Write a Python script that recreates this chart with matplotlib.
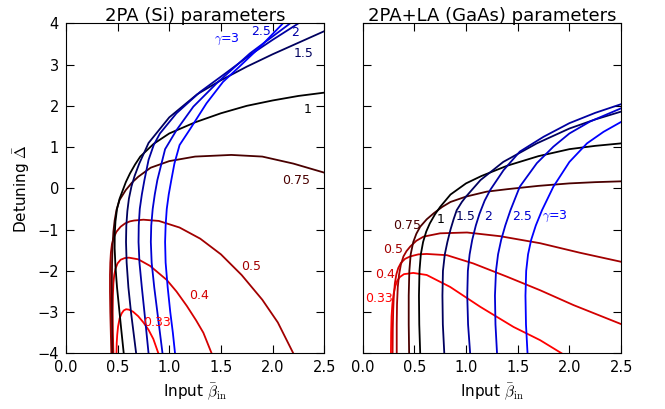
import matplotlib
matplotlib.use('Agg')
import matplotlib.pyplot as plt

plt.rcParams['mathtext.fontset'] = 'cm'
plt.rcParams['font.family'] = ['DejaVu Sans']

# gamma values and the colour used for each one (red -> black -> blue)
gammas = ['0.33', '0.4', '0.5', '0.75', '1', '1.5', '2', '2.5', '3']
colors = ['#ff0000', '#d40000', '#a10000', '#4a0000', '#000000',
          '#00005e', '#0000a1', '#0000d4', '#0000ff']

# ---- 2PA (Si) curves ----
si_033_x = [0.49, 0.492, 0.497, 0.505, 0.52, 0.54, 0.56, 0.583, 0.61, 0.65, 0.70, 0.75, 0.80, 0.846, 0.895]
si_033_y = [-4, -3.75, -3.55, -3.35, -3.15, -3.03, -2.96, -2.93, -2.94, -2.99, -3.1, -3.25, -3.43, -3.65, -4]
si_04_x = [0.46, 0.455, 0.453, 0.455, 0.46, 0.468, 0.48, 0.50, 0.53, 0.57, 0.61, 0.70, 0.815,
           0.976, 1.07, 1.17, 1.26, 1.33, 1.41]
si_04_y = [-4, -3.5, -3, -2.6, -2.3, -2.1, -1.95, -1.82, -1.73, -1.69, -1.68, -1.72, -1.88,
           -2.22, -2.5, -2.85, -3.2, -3.5, -4]
si_05_x = [0.44, 0.435, 0.43, 0.427, 0.427, 0.43, 0.436, 0.446, 0.462, 0.49, 0.53, 0.573, 0.62,
           0.66, 0.75, 0.9, 1.1, 1.3, 1.5, 1.7, 1.9, 2.05, 2.2]
si_05_y = [-4, -3.5, -3, -2.5, -2.1, -1.8, -1.55, -1.35, -1.2, -1.05, -0.93, -0.85, -0.8,
           -0.78, -0.76, -0.79, -0.95, -1.22, -1.6, -2.1, -2.7, -3.25, -4]
si_075_x = [0.45, 0.446, 0.445, 0.447, 0.452, 0.46, 0.472, 0.49, 0.52, 0.58, 0.64, 0.70, 0.82,
            1.0, 1.25, 1.6, 1.9, 2.2, 2.5]
si_075_y = [-4, -3, -2.3, -1.8, -1.4, -1.05, -0.78, -0.52, -0.28, -0.04, 0.14, 0.28, 0.5,
            0.66, 0.77, 0.81, 0.77, 0.6, 0.38]
si_1_x = [0.56, 0.535, 0.515, 0.495, 0.48, 0.472, 0.473, 0.48, 0.495, 0.52, 0.55, 0.58, 0.62,
          0.67, 0.72, 0.85, 1.0, 1.25, 1.5, 1.75, 2.0, 2.25, 2.5]
si_1_y = [-4, -3.4, -2.9, -2.4, -1.9, -1.45, -1.1, -0.8, -0.5, -0.25, -0.05, 0.15, 0.36,
          0.58, 0.77, 1.08, 1.33, 1.6, 1.82, 2.0, 2.13, 2.24, 2.32]
si_15_x = [0.68, 0.655, 0.63, 0.605, 0.588, 0.582, 0.585, 0.595, 0.61, 0.635, 0.665, 0.71, 0.80,
           1.0, 1.27, 1.5, 1.75, 2.0, 2.25, 2.5]
si_15_y = [-4, -3.5, -3, -2.4, -1.8, -1.3, -0.9, -0.55, -0.25, 0.05, 0.3, 0.6, 1.1,
           1.72, 2.28, 2.62, 2.95, 3.25, 3.53, 3.81]
si_2_x = [0.80, 0.78, 0.76, 0.735, 0.712, 0.703, 0.705, 0.715, 0.735, 0.76, 0.80, 0.85, 0.91,
          1.07, 1.30, 1.55, 1.78, 2.0, 2.25]
si_2_y = [-4, -3.5, -3, -2.4, -1.8, -1.3, -0.9, -0.5, -0.15, 0.2, 0.69, 1.05, 1.33,
          1.82, 2.34, 2.8, 3.23, 3.6, 4.0]
si_25_x = [0.935, 0.91, 0.885, 0.855, 0.83, 0.822, 0.826, 0.84, 0.86, 0.885, 0.915, 0.96, 1.07,
           1.233, 1.46, 1.78, 2.17]
si_25_y = [-4, -3.5, -3, -2.4, -1.8, -1.3, -0.9, -0.5, -0.15, 0.2, 0.5, 0.95, 1.41,
           1.98, 2.55, 3.27, 4.0]
si_3_x = [1.056, 1.035, 1.01, 0.985, 0.965, 0.96, 0.965, 0.976, 0.995, 1.02, 1.05, 1.10, 1.20,
          1.36, 1.52, 1.67, 1.88, 2.10]
si_3_y = [-4, -3.5, -3, -2.4, -1.8, -1.3, -0.9, -0.5, -0.15, 0.2, 0.6, 1.05, 1.43,
          2.06, 2.58, 2.93, 3.43, 4.0]

# ---- 2PA+LA (GaAs) curves ----
ga_033_x = [0.274, 0.276, 0.28, 0.288, 0.30, 0.315, 0.335, 0.36, 0.40, 0.49, 0.62, 0.847,
            1.137, 1.46, 1.717, 1.926]
ga_033_y = [-4, -3.5, -3.1, -2.8, -2.56, -2.38, -2.24, -2.15, -2.08, -2.05, -2.10, -2.39,
            -2.87, -3.36, -3.68, -4]
ga_04_x = [0.29, 0.292, 0.296, 0.302, 0.312, 0.327, 0.345, 0.37, 0.41, 0.46, 0.54, 0.62, 0.815,
           1.07, 1.395, 1.717, 2.04, 2.5]
ga_04_y = [-4, -3.4, -2.95, -2.6, -2.3, -2.08, -1.93, -1.81, -1.71, -1.65, -1.6, -1.59, -1.62,
           -1.82, -2.14, -2.47, -2.83, -3.29]
ga_05_x = [0.33, 0.33, 0.333, 0.34, 0.352, 0.37, 0.395, 0.425, 0.461, 0.52, 0.59, 0.75, 1.01,
           1.33, 1.717, 2.10, 2.5]
ga_05_y = [-4, -3.3, -2.8, -2.4, -2.1, -1.85, -1.65, -1.52, -1.41, -1.27, -1.17, -1.09, -1.07,
           -1.16, -1.33, -1.56, -1.78]
ga_075_x = [0.45, 0.446, 0.446, 0.452, 0.465, 0.49, 0.52, 0.557, 0.62, 0.69, 0.77, 0.85, 1.0,
            1.2, 1.4, 1.7, 2.0, 2.25, 2.5]
ga_075_y = [-4, -3.3, -2.6, -2.0, -1.6, -1.3, -1.1, -0.93, -0.75, -0.6, -0.45, -0.33, -0.2,
            -0.08, -0.02, 0.06, 0.12, 0.15, 0.17]
ga_1_x = [0.557, 0.548, 0.545, 0.55, 0.563, 0.585, 0.615, 0.65, 0.70, 0.75, 0.85, 1.0, 1.15,
          1.4, 1.7, 2.0, 2.25, 2.5]
ga_1_y = [-4, -3.3, -2.6, -2.0, -1.6, -1.3, -1.05, -0.85, -0.63, -0.45, -0.15, 0.12, 0.3,
          0.55, 0.78, 0.95, 1.03, 1.09]
ga_15_x = [0.79, 0.776, 0.772, 0.777, 0.795, 0.82, 0.85, 0.88, 0.91, 0.96, 1.0, 1.14, 1.36,
           1.685, 2.0, 2.25, 2.5]
ga_15_y = [-4, -3.3, -2.6, -2.0, -1.6, -1.3, -1.0, -0.75, -0.53, -0.33, -0.2, 0.2, 0.64,
           1.09, 1.45, 1.67, 1.86]
ga_2_x = [1.04, 1.02, 1.012, 1.018, 1.035, 1.06, 1.095, 1.13, 1.18, 1.234, 1.363, 1.52, 1.75,
          2.0, 2.25, 2.5]
ga_2_y = [-4, -3.3, -2.6, -2.0, -1.6, -1.25, -0.9, -0.62, -0.3, -0.04, 0.44, 0.89, 1.25,
          1.58, 1.83, 2.04]
ga_25_x = [1.30, 1.285, 1.28, 1.29, 1.31, 1.34, 1.38, 1.43, 1.52, 1.685, 1.845, 2.0, 2.2, 2.5]
ga_25_y = [-4, -3.3, -2.6, -2.0, -1.6, -1.25, -0.9, -0.53, 0.04, 0.61, 1.01, 1.33, 1.62, 1.94]
ga_3_x = [1.595, 1.58, 1.575, 1.582, 1.6, 1.63, 1.675, 1.735, 1.845, 2.0, 2.17, 2.33, 2.5]
ga_3_y = [-4, -3.3, -2.6, -2.0, -1.6, -1.25, -0.9, -0.53, 0.04, 0.64, 1.09, 1.37, 1.61]

si_curves = [(si_033_x, si_033_y), (si_04_x, si_04_y), (si_05_x, si_05_y),
             (si_075_x, si_075_y), (si_1_x, si_1_y), (si_15_x, si_15_y),
             (si_2_x, si_2_y), (si_25_x, si_25_y), (si_3_x, si_3_y)]
ga_curves = [(ga_033_x, ga_033_y), (ga_04_x, ga_04_y), (ga_05_x, ga_05_y),
             (ga_075_x, ga_075_y), (ga_1_x, ga_1_y), (ga_15_x, ga_15_y),
             (ga_2_x, ga_2_y), (ga_25_x, ga_25_y), (ga_3_x, ga_3_y)]

# where the gamma labels sit in each panel
si_label_pos = [(0.88, -3.26), (1.29, -2.60), (1.79, -1.90), (2.23, 0.2), (2.34, 1.92),
                (2.30, 3.28), (2.22, 3.77), (1.89, 3.81), (1.56, 3.6)]
ga_label_pos = [(0.156, -2.68), (0.22, -2.10), (0.30, -1.48), (0.43, -0.89), (0.75, -0.75),
                (1.0, -0.69), (1.21, -0.69), (1.54, -0.69), (1.86, -0.69)]

fig, axes = plt.subplots(1, 2, sharey=True, figsize=(6.65, 4.09), dpi=100)
fig.subplots_adjust(left=0.099, right=0.934, bottom=0.136, top=0.943, wspace=0.148)

panels = [(axes[0], si_curves, si_label_pos, '2PA (Si) parameters'),
          (axes[1], ga_curves, ga_label_pos, '2PA+LA (GaAs) parameters')]

for ax, curves, label_pos, title in panels:
    for (xs, ys), c in zip(curves, colors):
        ax.plot(xs, ys, color=c, lw=1.3)
    for g, (lx, ly), c in zip(gammas, label_pos, colors):
        txt = r'$\gamma$=' + g if g == '3' else g
        ax.text(lx, ly, txt, color=c, fontsize=9, ha='center', va='center')
    ax.set_xlim(0, 2.5)
    ax.set_ylim(-4, 4)
    ax.set_xticks([0.0, 0.5, 1.0, 1.5, 2.0, 2.5])
    ax.set_xticklabels(['0.0', '0.5', '1.0', '1.5', '2.0', '2.5'])
    ax.set_yticks(range(-4, 5))
    ax.tick_params(direction='in', top=True, right=True, length=6, labelsize=10.5, pad=5)
    ax.set_xlabel(r'Input $\bar{\beta}_{\rm in}$', fontsize=11)
    ax.set_title(title, fontsize=13, pad=2)

axes[0].set_ylabel(r'Detuning $\bar{\Delta}$', fontsize=11)
axes[1].tick_params(labelleft=False)

fig.savefig('out.png', dpi=100, facecolor='white')
